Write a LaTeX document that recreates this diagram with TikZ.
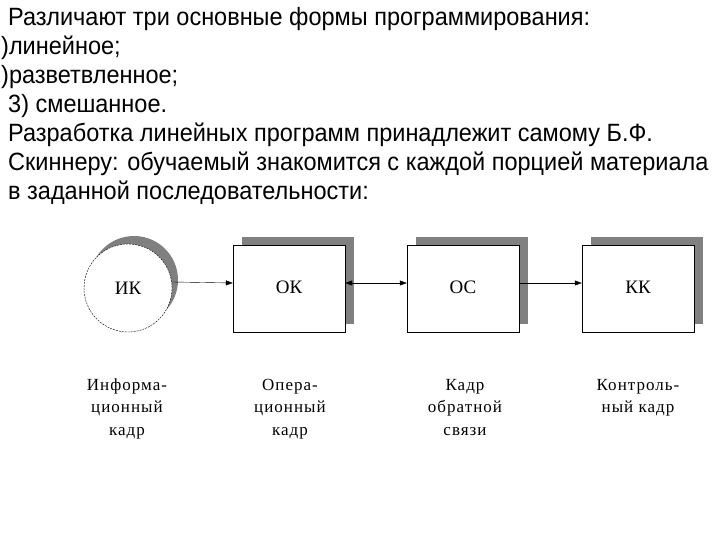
\documentclass[tikz,border=0pt]{standalone}
\usepackage{fontspec}
\setmainfont{Liberation Serif}
\newfontfamily\txtfont[FakeStretch=0.94]{Liberation Sans}
\newfontfamily\podfont[LetterSpace=6]{Liberation Serif}
\usetikzlibrary{arrows.meta}

\begin{document}
\begin{tikzpicture}[x=1pt,y=-1pt,>={Triangle[length=7pt,width=5pt]},
    kadr/.style={draw,fill=white,minimum width=112pt,minimum height=87pt,inner sep=0pt,font=\fontsize{19}{22}\selectfont},
    ten/.style={fill=black!50,draw=none},
    podpis/.style={anchor=base,align=center,inner sep=0pt,font=\podfont\fontsize{17}{22.5}\selectfont},
    stroka/.style={anchor=base west,inner sep=0pt,font=\txtfont\fontsize{25}{29}\selectfont}]
  \useasboundingbox (0,0) rectangle (720,540);
  \foreach \x/\t [count=\i] in {8/{Различают три основные формы программирования:},1/{)линейное;},1/{)разветвленное;},8/{3) смешанное.},8/{Разработка линейных программ принадлежит самому Б.Ф.},8/{Скиннеру: обучаемый знакомится с каждой порцией материала},8/{в заданной последовательности:}}
    {\node[stroka] (t\i) at (\x,{26+29*(\i-1)}) {\t};}
  % ik
  \node[circle,ten,minimum size=88pt] (ikt) at (134,280) {};
  \node[circle,draw,dash pattern=on 2pt off 1pt,fill=white,minimum size=88pt,inner sep=0pt,font=\fontsize{19}{22}\selectfont] (ik) at (128,288) {ИК};
  % ok, os, kk
  \foreach \x/\n [count=\i] in {289/ОК,463/ОС,638/КК} {
    \node[kadr,ten] (s\i) at (\x+9,280) {};
    \node[kadr] (k\i) at (\x,289) {\raisebox{4pt}{\n}};}
  \draw[->] ([yshift=6pt]ik.east) -- ([yshift=6pt]k1.west);
  \draw[<->] ([yshift=6pt]k1.east) -- ([yshift=6pt]k2.west);
  \draw[->] ([yshift=6pt]k2.east) -- ([yshift=6pt]k3.west);
  % base = last line
  \foreach \x/\y/\t [count=\i] in {127/435/{Информа-\\ционный\\кадр},290/435/{Опера-\\ционный\\кадр},465/435/{Кадр\\обратной\\связи},638/412.5/{Контроль-\\ный кадр}}
    {\node[podpis] (p\i) at (\x,\y) {\t};}
\end{tikzpicture}
\end{document}
